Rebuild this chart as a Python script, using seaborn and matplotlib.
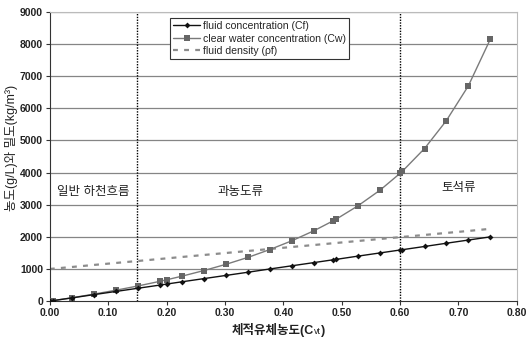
import matplotlib
matplotlib.use("Agg")
import matplotlib.pyplot as plt
import seaborn as sns
import pandas as pd

# ---- data ----
cv = [0.000, 0.006, 0.038, 0.075, 0.113, 0.151, 0.189, 0.200, 0.226, 0.264,
      0.302, 0.340, 0.377, 0.415, 0.453, 0.485, 0.491, 0.528, 0.566, 0.600,
      0.604, 0.642, 0.679, 0.717, 0.755]
cf = [0, 16, 100, 200, 300, 400, 500, 530, 600, 700,
      800, 900, 1000, 1100, 1200, 1285, 1300, 1400, 1500, 1590,
      1600, 1700, 1800, 1900, 2000]
cw = [0, 16, 104, 216, 338, 471, 617, 663, 774, 951,
      1146, 1364, 1605, 1880, 2194, 2495, 2554, 2966, 3456, 3975,
      4040, 4749, 5607, 6696, 8163]
rho = [1000, 1010, 1062, 1125, 1187, 1249, 1312, 1330, 1373, 1436,
       1498, 1561, 1622, 1685, 1747, 1800, 1810, 1871, 1934, 1990,
       1997, 2059, 2121, 2183, 2250]
series_names = ["fluid concentration (Cf)", "clear water concentration (Cw)",
                "fluid density (\u03c1f)"]
zone_bounds = [0.15, 0.60]
zone_labels = ["일반 하천흐름", "과농도류", "토석류"]
zone_x = [0.075, 0.327, 0.70]
zone_y = [3400, 3400, 3520]
x_ticks = [0.0, 0.1, 0.2, 0.3, 0.4, 0.5, 0.6, 0.7, 0.8]
y_ticks = list(range(0, 9001, 1000))

df = pd.DataFrame({"cv": cv, "cf": cf, "cw": cw, "rho": rho})

sns.set_theme(style="white")
plt.rcParams["font.family"] = ["Liberation Sans", "Noto Sans CJK KR", "DejaVu Sans"]

fig = plt.figure(figsize=(5.30, 3.41), dpi=100)
ax = fig.add_axes([0.094, 0.117, 0.881, 0.848])

for yv in y_ticks[1:]:
    ax.axhline(yv, color="#858585", lw=0.9, zorder=0)
for xb in zone_bounds:
    ax.axvline(xb, color="black", lw=1.0, ls=(0, (1, 1)), zorder=1)

sns.lineplot(data=df, x="cv", y="cw", ax=ax, color="#7a7a7a", lw=1.0,
             marker="s", markersize=4, markeredgewidth=0, markerfacecolor="#666666",
             label=series_names[1], zorder=3)
sns.lineplot(data=df, x="cv", y="cf", ax=ax, color="#111111", lw=1.0,
             marker="D", markersize=3, markeredgewidth=0, markerfacecolor="#111111",
             label=series_names[0], zorder=4)
sns.lineplot(data=df, x="cv", y="rho", ax=ax, color="#8c8c8c", lw=1.6,
             dashes=False, linestyle=(0, (2.2, 2.8)),
             label=series_names[2], zorder=2)

for t, xx, yy in zip(zone_labels, zone_x, zone_y):
    ax.text(xx, yy, t, ha="center", va="center", fontsize=9, color="#222222")

ax.set_xlim(0, 0.8)
ax.set_ylim(0, 9000)
ax.set_xticks(x_ticks)
ax.set_xticklabels([f"{v:.2f}" for v in x_ticks], fontsize=7.5, fontweight="bold", color="#222222")
ax.set_yticks(y_ticks)
ax.set_yticklabels([str(v) for v in y_ticks], fontsize=7.5, fontweight="bold", color="#222222")
ax.tick_params(axis="both", direction="out", length=3, width=0.8, pad=2, color="#333333",
               bottom=True, left=True)
for s in ["top", "right"]:
    ax.spines[s].set_color("#bbbbbb")
    ax.spines[s].set_linewidth(0.8)
for s in ["left", "bottom"]:
    ax.spines[s].set_color("#333333")
    ax.spines[s].set_linewidth(0.8)

ax.set_xlabel("")
ax.set_ylabel("농도(g/L)와 밀도(kg/m³)", fontsize=9, color="#222222")
ax.yaxis.set_label_coords(-0.068, 0.53)

# x label with subscript, built from text pieces
t1 = ax.text(0.389, -0.114, "체적유체농도(C", transform=ax.transAxes, ha="left",
             va="baseline", fontsize=9, fontweight="bold", color="#222222")
t2 = ax.annotate("vt", xy=(1, 0), xycoords=t1, xytext=(0.2, 0.5),
                 textcoords="offset points", ha="left", va="bottom",
                 fontsize=6.5, color="#222222")
t3 = ax.annotate(")", xy=(1, 0), xycoords=(t2, t1), xytext=(0.2, 0),
                 textcoords="offset points", ha="left", va="bottom",
                 fontsize=9, fontweight="bold", color="#222222")

h, l = ax.get_legend_handles_labels()
order = [l.index(n) for n in series_names]
leg = ax.legend([h[i] for i in order], [l[i] for i in order],
                loc="upper left", bbox_to_anchor=(0.257, 0.980), borderaxespad=0,
                fontsize=7.6, frameon=True, fancybox=False, framealpha=1,
                edgecolor="#333333", handlelength=2.6, handletextpad=0.2,
                borderpad=0.3, labelspacing=0.25)
leg.get_frame().set_linewidth(0.8)

fig.savefig("out.png", dpi=100)
